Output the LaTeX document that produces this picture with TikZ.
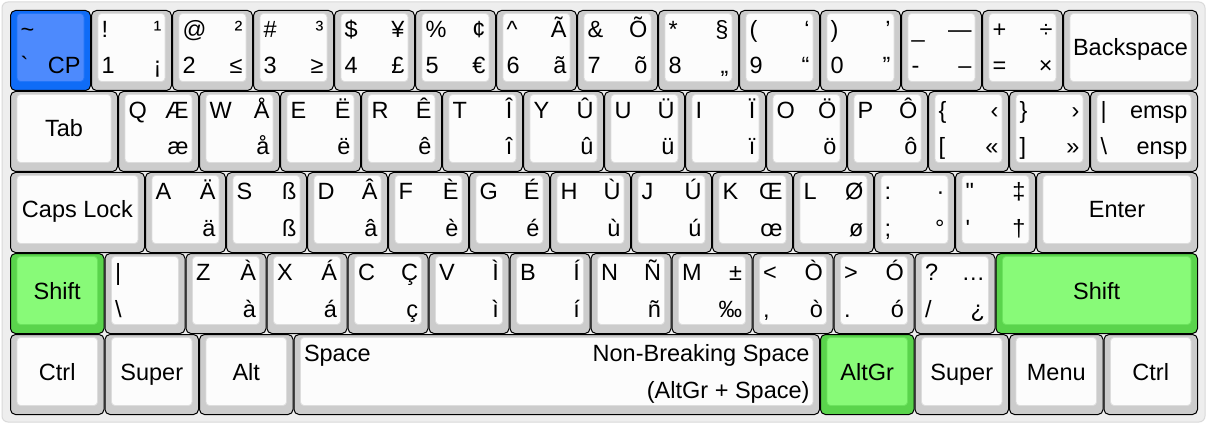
\documentclass[tikz,border=0pt]{standalone}
\usepackage{fontspec}
\setmainfont{Liberation Sans}
\definecolor{kbg}{HTML}{EEEEEE}
\definecolor{kbgline}{HTML}{DADADA}
\definecolor{kouter}{HTML}{CCCCCC}
\definecolor{kinner}{HTML}{FCFCFC}
\definecolor{kinline}{HTML}{DDDDDD}
\definecolor{kbouter}{HTML}{0F6CF7}
\definecolor{kbinner}{HTML}{4D8AFD}
\definecolor{kgouter}{HTML}{5AD44C}
\definecolor{kginner}{HTML}{88FA78}
\tikzset{
  outern/.style={draw=black,line width=1pt,fill=kouter,rounded corners=5pt},
  innern/.style={draw=kinline,line width=0.8pt,fill=kinner,rounded corners=3.5pt},
  outerb/.style={draw=black,line width=1pt,fill=kbouter,rounded corners=5pt},
  innerb/.style={draw=kbouter!70!kbinner,line width=0.8pt,fill=kbinner,rounded corners=3.5pt},
  outerg/.style={draw=black,line width=1pt,fill=kgouter,rounded corners=5pt},
  innerg/.style={draw=kgouter!60!kginner,line width=0.8pt,fill=kginner,rounded corners=3.5pt},
  lg/.style={inner sep=0pt,outer sep=0pt,text=black,font=\fontsize{23.5}{26}\selectfont},
}
\newcounter{kc}
\newcommand\kkey[9]{%
  \stepcounter{kc}%
  \pgfmathsetmacro\kxa{10+(#1)*81}%
  \pgfmathsetmacro\kxb{10+((#1)+(#3))*81}%
  \pgfmathsetmacro\kya{10+(#2)*81}%
  \pgfmathsetmacro\kyb{\kya+81}%
  \draw[outer#4] (\kxa+0.5,\kya+0.5) rectangle (\kxb-0.5,\kyb-0.5);
  \draw[inner#4] (\kxa+7,\kya+3.5) rectangle (\kxb-7,\kyb-9.5);
  \if\relax\detokenize{#5}\relax\else
    \node[lg,anchor=base west] (k\arabic{kc}tl) at (\kxa+10.5,\kya+27.5) {#5};\fi
  \if\relax\detokenize{#6}\relax\else
    \node[lg,anchor=base east] (k\arabic{kc}tr) at (\kxb-10.5,\kya+27.5) {#6};\fi
  \if\relax\detokenize{#7}\relax\else
    \node[lg,anchor=base west] (k\arabic{kc}bl) at (\kxa+10.5,\kya+64) {#7};\fi
  \if\relax\detokenize{#8}\relax\else
    \node[lg,anchor=base east] (k\arabic{kc}br) at (\kxb-10.5,\kya+64) {#8};\fi
  \if\relax\detokenize{#9}\relax\else
    \node[lg,anchor=base] (k\arabic{kc}c) at ({(\kxa+\kxb)/2},\kya+46) {#9};\fi
}
\begin{document}
\begin{tikzpicture}[x=1pt,y=-1pt]
\useasboundingbox (0,0) rectangle (1208,425);
\fill[white] (0,0) rectangle (1208,425);
\draw[fill=kbg,draw=kbgline,line width=1pt,rounded corners=6pt] (2,2) rectangle (1205,422);
% row 0
\kkey{0}{0}{1}{b}{\textasciitilde}{}{\textasciigrave}{CP}{}
\kkey{1}{0}{1}{n}{!}{¹}{1}{¡}{}
\kkey{2}{0}{1}{n}{@}{²}{2}{≤}{}
\kkey{3}{0}{1}{n}{\#}{³}{3}{≥}{}
\kkey{4}{0}{1}{n}{\$}{¥}{4}{£}{}
\kkey{5}{0}{1}{n}{\%}{¢}{5}{€}{}
\kkey{6}{0}{1}{n}{\textasciicircum}{Ã}{6}{ã}{}
\kkey{7}{0}{1}{n}{\&}{Õ}{7}{õ}{}
\kkey{8}{0}{1}{n}{*}{§}{8}{„}{}
\kkey{9}{0}{1}{n}{(}{‘}{9}{“}{}
\kkey{10}{0}{1}{n}{)}{’}{0}{”}{}
\kkey{11}{0}{1}{n}{\_}{—}{-}{–}{}
\kkey{12}{0}{1}{n}{+}{÷}{=}{×}{}
\kkey{13}{0}{5/3}{n}{}{}{}{}{Backspace}
% row 1
\kkey{0}{1}{4/3}{n}{}{}{}{}{Tab}
\kkey{4/3}{1}{1}{n}{Q}{Æ}{}{æ}{}
\kkey{4/3+1}{1}{1}{n}{W}{Å}{}{å}{}
\kkey{4/3+2}{1}{1}{n}{E}{Ë}{}{ë}{}
\kkey{4/3+3}{1}{1}{n}{R}{Ê}{}{ê}{}
\kkey{4/3+4}{1}{1}{n}{T}{Î}{}{î}{}
\kkey{4/3+5}{1}{1}{n}{Y}{Û}{}{û}{}
\kkey{4/3+6}{1}{1}{n}{U}{Ü}{}{ü}{}
\kkey{4/3+7}{1}{1}{n}{I}{Ï}{}{ï}{}
\kkey{4/3+8}{1}{1}{n}{O}{Ö}{}{ö}{}
\kkey{4/3+9}{1}{1}{n}{P}{Ô}{}{ô}{}
\kkey{4/3+10}{1}{1}{n}{\{}{‹}{[}{«}{}
\kkey{4/3+11}{1}{1}{n}{\}}{›}{]}{»}{}
\kkey{4/3+12}{1}{4/3}{n}{|}{emsp}{\textbackslash}{ensp}{}
% row 2
\kkey{0}{2}{5/3}{n}{}{}{}{}{Caps Lock}
\kkey{5/3}{2}{1}{n}{A}{Ä}{}{ä}{}
\kkey{5/3+1}{2}{1}{n}{S}{ß}{}{ß}{}
\kkey{5/3+2}{2}{1}{n}{D}{Â}{}{â}{}
\kkey{5/3+3}{2}{1}{n}{F}{È}{}{è}{}
\kkey{5/3+4}{2}{1}{n}{G}{É}{}{é}{}
\kkey{5/3+5}{2}{1}{n}{H}{Ù}{}{ù}{}
\kkey{5/3+6}{2}{1}{n}{J}{Ú}{}{ú}{}
\kkey{5/3+7}{2}{1}{n}{K}{Œ}{}{œ}{}
\kkey{5/3+8}{2}{1}{n}{L}{Ø}{}{ø}{}
\kkey{5/3+9}{2}{1}{n}{:}{·}{;}{°}{}
\kkey{5/3+10}{2}{1}{n}{\textquotedbl}{‡}{\textquotesingle}{†}{}
\kkey{5/3+11}{2}{2}{n}{}{}{}{}{Enter}
% row 3
\kkey{0}{3}{7/6}{g}{}{}{}{}{Shift}
\kkey{7/6}{3}{1}{n}{|}{}{\textbackslash}{}{}
\kkey{7/6+1}{3}{1}{n}{Z}{À}{}{à}{}
\kkey{7/6+2}{3}{1}{n}{X}{Á}{}{á}{}
\kkey{7/6+3}{3}{1}{n}{C}{Ç}{}{ç}{}
\kkey{7/6+4}{3}{1}{n}{V}{Ì}{}{ì}{}
\kkey{7/6+5}{3}{1}{n}{B}{Í}{}{í}{}
\kkey{7/6+6}{3}{1}{n}{N}{Ñ}{}{ñ}{}
\kkey{7/6+7}{3}{1}{n}{M}{±}{}{‰}{}
\kkey{7/6+8}{3}{1}{n}{<}{Ò}{,}{ò}{}
\kkey{7/6+9}{3}{1}{n}{>}{Ó}{.}{ó}{}
\kkey{7/6+10}{3}{1}{n}{?}{…}{/}{¿}{}
\kkey{7/6+11}{3}{2.5}{g}{}{}{}{}{Shift}
% row 4
\kkey{0}{4}{7/6}{n}{}{}{}{}{Ctrl}
\kkey{7/6}{4}{7/6}{n}{}{}{}{}{Super}
\kkey{14/6}{4}{7/6}{n}{}{}{}{}{Alt}
\kkey{21/6}{4}{6.5}{n}{Space}{Non-Breaking Space}{}{(AltGr + Space)}{}
\kkey{10}{4}{7/6}{g}{}{}{}{}{AltGr}
\kkey{10+7/6}{4}{7/6}{n}{}{}{}{}{Super}
\kkey{10+14/6}{4}{7/6}{n}{}{}{}{}{Menu}
\kkey{10+21/6}{4}{7/6}{n}{}{}{}{}{Ctrl}
\end{tikzpicture}
\end{document}
